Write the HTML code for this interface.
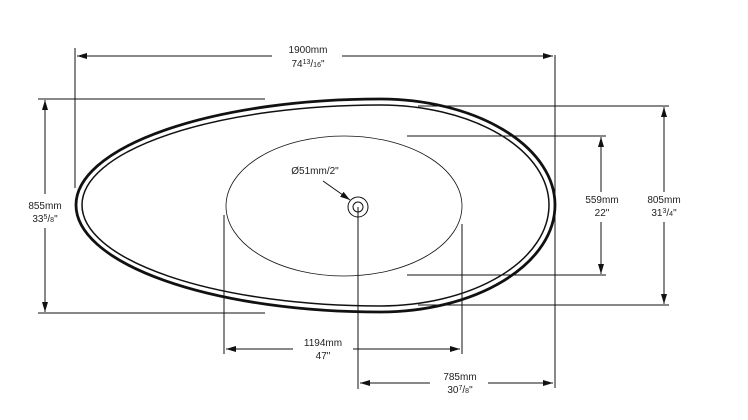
<!DOCTYPE html>
<html><head><meta charset="utf-8"><style>
html,body{margin:0;padding:0;background:#fff;}
svg{display:block;}
text{font-family:"Liberation Sans",sans-serif;font-size:10px;fill:#222;}
</style></head><body>
<svg width="748" height="420" viewBox="0 0 748 420" xmlns="http://www.w3.org/2000/svg">
<defs>
<marker id="a" viewBox="0 0 10 6" refX="10" refY="3" markerWidth="10" markerHeight="6" orient="auto" markerUnits="userSpaceOnUse"><path d="M0,0 L10,3 L0,6 Z" fill="#111"/></marker>
</defs>
<g stroke="#111" stroke-width="1" fill="none">
<!-- bath -->
<path d="M 76 205 A 304 106 0 0 1 380 99 A 175 106 0 0 1 555 205 A 175 107 0 0 1 380 312 A 304 107 0 0 1 76 205 Z" stroke-width="2.8"/>
<path d="M 82 205 A 298 100 0 0 1 380 105 A 169 100 0 0 1 549 205 A 169 101 0 0 1 380 306 A 298 101 0 0 1 82 205 Z" stroke-width="1.5"/>
<!-- basin -->
<ellipse cx="344" cy="206" rx="118" ry="70" stroke-width="0.8"/>
<circle cx="358" cy="207" r="10"/>
<circle cx="358" cy="207" r="5"/>
<line x1="358" y1="207" x2="358" y2="389"/>
<!-- top dim -->
<line x1="75" y1="48" x2="75" y2="188"/>
<line x1="555" y1="55" x2="555" y2="388"/>
<line x1="272" y1="56" x2="77" y2="56" marker-end="url(#a)"/>
<line x1="342" y1="56" x2="553" y2="56" marker-end="url(#a)"/>
<!-- 855 -->
<line x1="38" y1="99" x2="265" y2="99"/>
<line x1="38" y1="313" x2="265" y2="313"/>
<line x1="45" y1="194" x2="45" y2="100" marker-end="url(#a)"/>
<line x1="45" y1="228" x2="45" y2="312" marker-end="url(#a)"/>
<!-- 805 -->
<line x1="418" y1="106" x2="669" y2="106"/>
<line x1="418" y1="305" x2="669" y2="305"/>
<line x1="664" y1="192" x2="664" y2="107" marker-end="url(#a)"/>
<line x1="664" y1="222" x2="664" y2="304" marker-end="url(#a)"/>
<!-- 559 -->
<line x1="407" y1="136" x2="606" y2="136"/>
<line x1="407" y1="275" x2="606" y2="275"/>
<line x1="601" y1="192" x2="601" y2="137" marker-end="url(#a)"/>
<line x1="601" y1="222" x2="601" y2="274" marker-end="url(#a)"/>
<!-- 1194 -->
<line x1="224" y1="215" x2="224" y2="354"/>
<line x1="462" y1="224" x2="462" y2="354"/>
<line x1="293" y1="349" x2="226" y2="349" marker-end="url(#a)"/>
<line x1="353" y1="349" x2="460" y2="349" marker-end="url(#a)"/>
<!-- 785 -->
<line x1="430" y1="383" x2="360" y2="383" marker-end="url(#a)"/>
<line x1="488" y1="383" x2="553" y2="383" marker-end="url(#a)"/>
<!-- drain arrow -->
<line x1="323" y1="181" x2="350" y2="200" marker-end="url(#a)"/>
</g>
<text x="308" y="53" text-anchor="middle">1900mm</text>
<text x="308" y="67" text-anchor="middle">74<tspan font-size="7" dy="-3">13</tspan><tspan dy="3">/</tspan><tspan font-size="7">16</tspan>"</text>
<text x="45" y="209" text-anchor="middle">855mm</text>
<text x="45" y="222" text-anchor="middle">33<tspan font-size="7" dy="-3">5</tspan><tspan dy="3">/</tspan><tspan font-size="7">8</tspan>"</text>
<text x="602" y="203" text-anchor="middle">559mm</text>
<text x="602" y="216" text-anchor="middle">22"</text>
<text x="664" y="203" text-anchor="middle">805mm</text>
<text x="664" y="216" text-anchor="middle">31<tspan font-size="7" dy="-3">3</tspan><tspan dy="3">/</tspan><tspan font-size="7">4</tspan>"</text>
<text x="315" y="174" text-anchor="middle">Ø51mm/2"</text>
<text x="323" y="346" text-anchor="middle">1194mm</text>
<text x="323" y="359" text-anchor="middle">47"</text>
<text x="460" y="380" text-anchor="middle">785mm</text>
<text x="460" y="393" text-anchor="middle">30<tspan font-size="7" dy="-3">7</tspan><tspan dy="3">/</tspan><tspan font-size="7">8</tspan>"</text>
</svg>
</body></html>
